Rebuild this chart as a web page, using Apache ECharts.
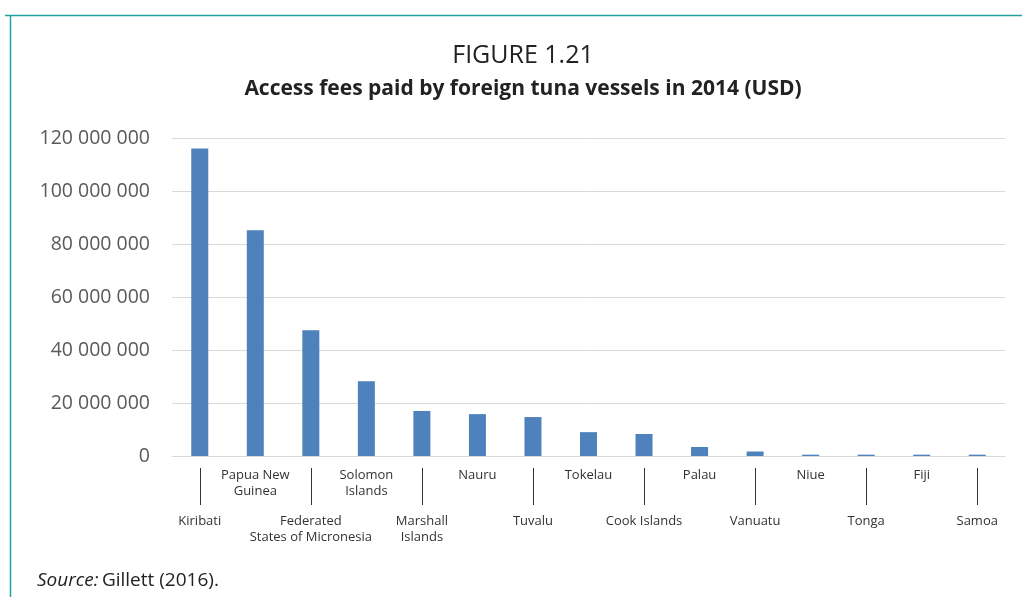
<!DOCTYPE html>
<html>
<head>
<meta charset="utf-8">
<script src="https://cdn.jsdelivr.net/npm/echarts@6/dist/echarts.min.js"></script>
<style>html,body{margin:0;padding:0;background:#fff}#c{width:1022px;height:597px}</style>
</head>
<body>
<div id="c"></div>
<script>
const categories = ["Kiribati","Papua New\nGuinea","Federated\nStates of Micronesia","Solomon\nIslands","Marshall\nIslands","Nauru","Tuvalu","Tokelau","Cook Islands","Palau","Vanuatu","Niue","Tonga","Fiji","Samoa"];
const fees = [116000000, 85200000, 47500000, 28200000, 17000000, 15800000, 14700000, 9000000, 8300000, 3400000, 1700000, 500000, 500000, 500000, 500000];
const yTicks = { min: 0, max: 120000000, interval: 20000000 };

const chart = echarts.init(document.getElementById('c'));
const font = '"Open Sans", "Noto Sans", sans-serif';
chart.setOption({
  animation: false,
  textStyle: { fontFamily: font },
  graphic: [
    { type: 'line', shape: { x1: 5, y1: 15.5, x2: 1022, y2: 15.5 }, style: { stroke: '#23a39e', lineWidth: 1.5 } },
    { type: 'line', shape: { x1: 10.5, y1: 15, x2: 10.5, y2: 597 }, style: { stroke: '#23a39e', lineWidth: 1.5 } },
    { type: 'text', x: 523, y: 56, style: { text: 'FIGURE 1.21', align: 'center', verticalAlign: 'middle', fontSize: 25, fontFamily: font, fill: '#222' } },
    { type: 'text', x: 523, y: 89, style: { text: 'Access fees paid by foreign tuna vessels in 2014 (USD)', align: 'center', verticalAlign: 'middle', fontSize: 21, fontWeight: 'bold', fontFamily: font, fill: '#222' } },
    { type: 'text', x: 37, y: 581, style: { verticalAlign: 'middle', rich: { i: { fontStyle: 'italic', fontSize: 19, fontFamily: font, fill: '#222' }, n: { fontSize: 19, fontFamily: font, fill: '#222' } }, text: '{i|Source:} {n|Gillett (2016).}' } }
  ],
  grid: { left: 172, right: 17, top: 138, bottom: 141 },
  xAxis: [
    { type: 'category', data: categories, position: 'bottom',
      axisLine: { lineStyle: { color: '#d9d9d9' } }, axisTick: { show: false },
      axisLabel: { interval: (i) => i % 2 === 1, margin: 11, fontSize: 13, lineHeight: 16, color: '#333', fontFamily: font } },
    { type: 'category', data: categories, position: 'bottom', offset: 12,
      axisLine: { show: false },
      axisTick: { show: true, alignWithLabel: true, interval: (i) => i % 2 === 0, length: 37, lineStyle: { color: '#333', width: 1 } },
      axisLabel: { interval: (i) => i % 2 === 0, margin: 45, fontSize: 13, lineHeight: 16, color: '#333', fontFamily: font } }
  ],
  yAxis: {
    type: 'value', min: yTicks.min, max: yTicks.max, interval: yTicks.interval,
    axisLine: { show: false }, axisTick: { show: false },
    splitLine: { lineStyle: { color: '#d9d9d9' } },
    axisLabel: { margin: 22, fontSize: 19.5, color: '#595959', fontFamily: font,
      formatter: (v) => String(v).replace(/\B(?=(\d{3})+(?!\d))/g, ' ') }
  },
  series: [{ type: 'bar', data: fees, xAxisIndex: 0, barWidth: 17, itemStyle: { color: '#4f81bd' } }]
});
</script>
</body>
</html>
